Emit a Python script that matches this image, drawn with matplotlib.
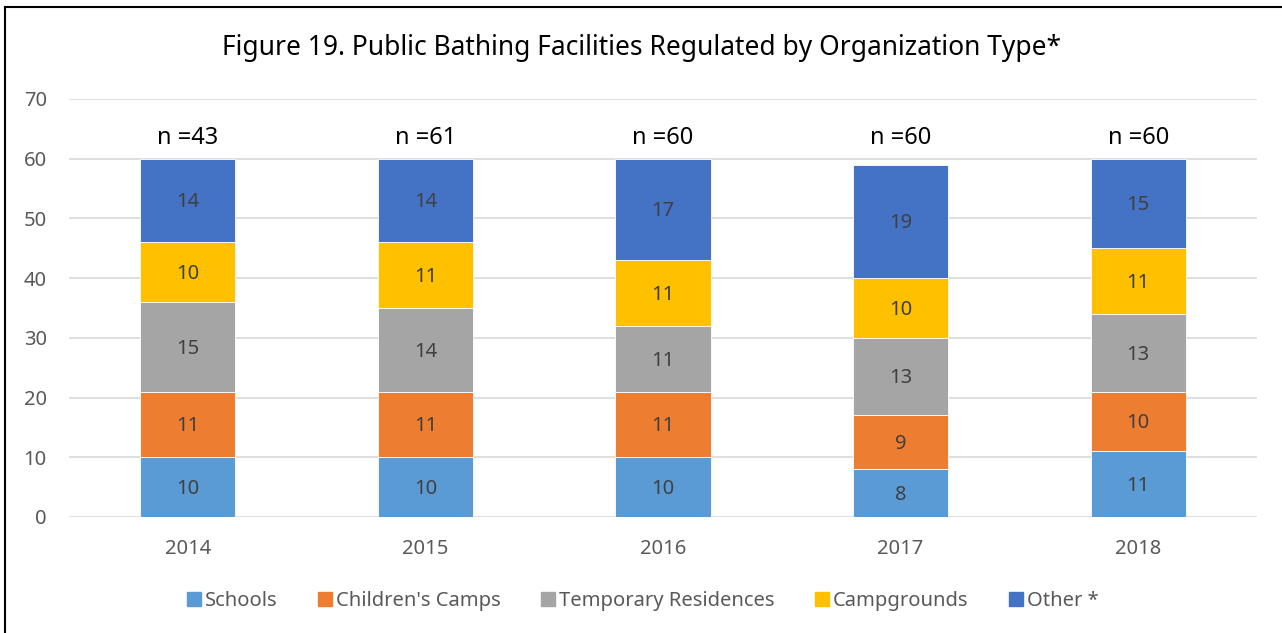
import matplotlib
matplotlib.use("Agg")
import matplotlib.pyplot as plt
from matplotlib.lines import Line2D
import numpy as np

years = ["2014", "2015", "2016", "2017", "2018"]
series_names = ["Schools", "Children's Camps", "Temporary Residences", "Campgrounds", "Other *"]
schools = [10, 10, 10, 8, 11]
camps = [11, 11, 11, 9, 10]
temp_res = [15, 14, 11, 13, 13]
campgrounds = [10, 11, 11, 10, 11]
other = [14, 14, 17, 19, 15]
n_labels = ["n =43", "n =61", "n =60", "n =60", "n =60"]
colors = ["#5B9BD5", "#ED7D31", "#A5A5A5", "#FFC000", "#4472C4"]

plt.rcParams['font.family'] = ['Noto Sans', 'DejaVu Sans']

W, H = 1282, 633
fig = plt.figure(figsize=(W / 100, H / 100), dpi=100)
ax = fig.add_axes([69 / W, 1 - 517 / H, (1257 - 69) / W, (517 - 99) / H])

data = [schools, camps, temp_res, campgrounds, other]
x = np.arange(len(years))
bottom = np.zeros(len(years))
for vals, name, c in zip(data, series_names, colors):
    vals = np.array(vals, dtype=float)
    ax.bar(x, vals, 0.4, bottom=bottom, color=c, label=name, edgecolor='white', linewidth=0.6, zorder=3)
    for xi, v, b in zip(x, vals, bottom):
        ax.text(xi, b + v / 2 - 0.3, f"{int(v)}", ha='center', va='center', fontsize=14.5, color='#404040', zorder=4)
    bottom += vals

for xi, t in zip(x, n_labels):
    ax.text(xi, 63.4, t, ha='center', va='center', fontsize=17, color='black')

ax.set_xlim(-0.5, len(years) - 0.5)
ax.set_ylim(0, 70)
ax.set_yticks(range(0, 71, 10))
ax.set_xticks(x)
ax.set_xticklabels(years)
ax.tick_params(axis='both', length=0, labelsize=14.5, labelcolor='#595959')
ax.tick_params(axis='y', pad=16)
ax.tick_params(axis='x', pad=16)
ax.grid(axis='y', color='#D9D9D9', linewidth=1.2, zorder=0)
for s in ax.spines.values():
    s.set_visible(False)

fig.text(0.5, 1 - 48 / H, "Figure 19. Public Bathing Facilities Regulated by Organization Type*",
         ha='center', va='center', fontsize=19, color='black')

handles = [Line2D([0], [0], marker='s', linestyle='none', markersize=10, markerfacecolor=c, markeredgecolor=c) for c in colors]
fig.legend(handles, series_names, loc='center', bbox_to_anchor=(0.5, 1 - 601 / H), ncol=5, frameon=False,
           fontsize=14.5, labelcolor='#595959', handletextpad=0.05, columnspacing=1.85, handlelength=1.0)

# border lines (top and left)
fig.add_artist(Line2D([5 / W, 5 / W], [0, 1 - 7 / H], transform=fig.transFigure, color='black', linewidth=1.5))
fig.add_artist(Line2D([5 / W, 1], [1 - 7 / H, 1 - 7 / H], transform=fig.transFigure, color='black', linewidth=1.5))

fig.savefig("out.png", dpi=100)
